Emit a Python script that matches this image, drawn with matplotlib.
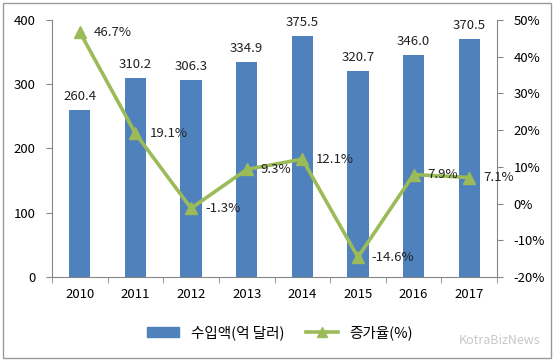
import matplotlib
matplotlib.use("Agg")
import matplotlib.pyplot as plt
from matplotlib.lines import Line2D
from matplotlib.patches import Patch, Rectangle
import numpy as np

plt.rcParams['font.family'] = ['Noto Sans CJK KR', 'DejaVu Sans']

years = ['2010', '2011', '2012', '2013', '2014', '2015', '2016', '2017']
imports = [260.4, 310.2, 306.3, 334.9, 375.5, 320.7, 346.0, 370.5]
growth = [46.7, 19.1, -1.3, 9.3, 12.1, -14.6, 7.9, 7.1]

bar_col = '#4F81BD'
line_col = '#9BBB59'
axis_col = '#868686'

fig = plt.figure(figsize=(5.56, 3.64), dpi=100)
ax = fig.add_axes([52/556, 1-277/364, 445/556, 257/364])
x = np.arange(len(years))

ax.bar(x, imports, width=0.38, color=bar_col, zorder=2)
for xi, v in zip(x, imports):
    ax.annotate(f'{v:.1f}', (xi, v), xytext=(0, 5), textcoords='offset points',
                ha='center', va='bottom', fontsize=9.5, color='#222222')

ax.set_xlim(-0.5, len(years) - 0.5)
ax.set_ylim(0, 400)
ax.set_yticks([0, 100, 200, 300, 400])
ax.set_xticks(x)
ax.set_xticklabels(years, fontsize=9.5)
ax.set_xticks(np.arange(-0.5, len(years), 1), minor=True)
ax.tick_params(axis='x', which='major', length=0, pad=8)
ax.tick_params(axis='x', which='minor', length=4, color=axis_col, direction='out')
ax.tick_params(axis='y', length=4, color=axis_col, labelsize=9.5, pad=8)

ax2 = ax.twinx()
ax2.plot(x, growth, color=line_col, lw=2.6, marker='^', ms=8, zorder=3)
for xi, v in zip(x, growth):
    ax2.annotate(f'{v:.1f}%', (xi, v), xytext=(10, 0), textcoords='offset points',
                 ha='left', va='center', fontsize=9.5, color='#222222')
ax2.set_ylim(-20, 50)
ax2.set_yticks(range(-20, 51, 10))
ax2.set_yticklabels([f'{t}%' for t in range(-20, 51, 10)])
ax2.tick_params(axis='y', length=4, color=axis_col, labelsize=9.5, pad=8)

for a in (ax, ax2):
    a.spines['top'].set_visible(False)
    for s in ('left', 'right', 'bottom'):
        a.spines[s].set_color(axis_col)
ax.spines['right'].set_visible(False)
ax2.spines['left'].set_visible(False)
ax2.spines['bottom'].set_visible(False)

handles = [Patch(color=bar_col),
           Line2D([0], [0], color=line_col, lw=2.6, marker='^', ms=7)]
fig.legend(handles, ['수입액(억 달러)', '증가율(%)'], loc='center',
           bbox_to_anchor=(280/556, 1-333/364), ncol=2, frameon=False,
           fontsize=10.5, handlelength=2.2, columnspacing=1.5)

fig.text(540/556, 1-340/364, 'KotraBizNews', ha='right', va='center',
         fontsize=9, color='#c8c8c8')

fig.patches.append(Rectangle((3/556, 6/364), 548/556, 355/364, transform=fig.transFigure,
                             fill=False, edgecolor='#999999', lw=1))

fig.savefig('out.png', dpi=100)
